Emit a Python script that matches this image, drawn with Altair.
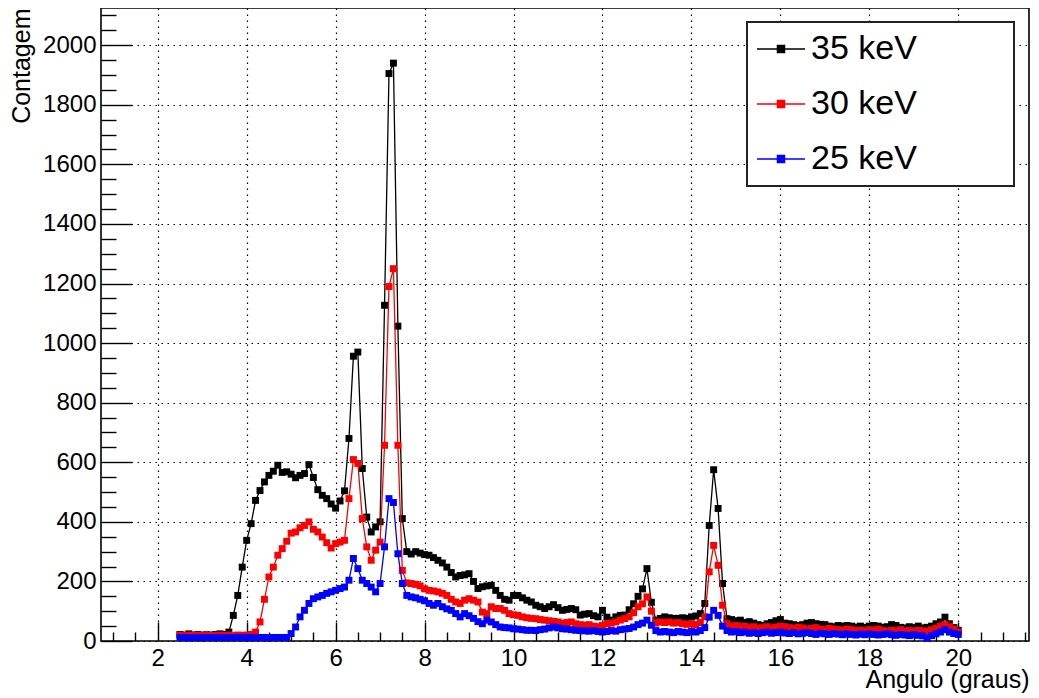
import altair as alt
import pandas as pd

FONT = "Liberation Sans"

# scan grid: 2.5 .. 20.0 degrees, step 0.1
angle = [round(2.5 + 0.1 * i, 1) for i in range(176)]

counts_35 = [
    22, 20, 24, 20, 22, 20, 21, 20, 22, 24,            # 2.5 - 3.4
    22, 30, 86, 153, 248, 338, 394, 472, 505, 534,     # 3.5 - 4.4
    556, 570, 590, 566, 568, 560, 548, 556, 562, 592,  # 4.5 - 5.4
    549, 508, 489, 478, 460, 446, 470, 504, 680, 956,  # 5.5 - 6.4
    970, 579, 416, 366, 383, 400, 1127, 1905, 1940, 1057,  # 6.5 - 7.4
    411, 300, 292, 300, 295, 290, 288, 280, 271, 262,  # 7.5 - 8.4
    248, 230, 215, 220, 222, 226, 200, 176, 182, 185,  # 8.5 - 9.4
    187, 170, 153, 140, 137, 153, 153, 145, 137, 131,  # 9.5 - 10.4
    120, 115, 109, 115, 122, 112, 103, 106, 109, 105,  # 10.5 - 11.4
    87, 90, 92, 85, 81, 103, 80, 70, 81, 86,           # 11.5 - 12.4
    87, 105, 125, 150, 175, 243, 130, 70, 76, 81,      # 12.5 - 13.4
    78, 76, 76, 78, 76, 81, 84, 92, 126, 388,          # 13.5 - 14.4
    575, 445, 193, 75, 72, 68, 70, 62, 65, 60,         # 14.5 - 15.4
    55, 52, 58, 62, 68, 72, 60, 58, 55, 52,            # 15.5 - 16.4
    55, 60, 62, 58, 56, 55, 50, 48, 52, 50,            # 16.5 - 17.4
    52, 50, 47, 50, 46, 50, 52, 50, 46, 48,            # 17.5 - 18.4
    55, 52, 46, 44, 48, 45, 50, 44, 46, 50,            # 18.5 - 19.4
    58, 64, 80, 58, 45, 36,                            # 19.5 - 20.0
]

counts_30 = [
    20, 18, 20, 19, 20, 18, 20, 19, 18, 20,
    19, 20, 18, 20, 19, 20, 22, 30, 64, 140,
    215, 248, 288, 310, 335, 362, 366, 380, 388, 400,
    375, 366, 349, 330, 312, 327, 332, 338, 478, 609,
    596, 411, 316, 271, 305, 332, 657, 1190, 1250, 657,
    237, 195, 193, 190, 185, 175, 170, 168, 165, 160,
    153, 140, 131, 126, 137, 142, 137, 131, 97, 92,
    115, 109, 109, 103, 92, 88, 86, 81, 78, 76,
    75, 72, 70, 68, 66, 64, 60, 62, 64, 58,
    55, 53, 55, 50, 48, 52, 58, 60, 64, 70,
    75, 81, 95, 115, 125, 148, 100, 60, 64, 62,
    64, 60, 62, 58, 56, 58, 55, 62, 81, 232,
    321, 254, 120, 58, 50, 52, 48, 50, 45, 48,
    42, 45, 48, 44, 46, 50, 48, 45, 42, 46,
    44, 40, 42, 45, 40, 38, 42, 40, 38, 36,
    40, 38, 35, 36, 34, 38, 36, 40, 35, 33,
    36, 34, 38, 32, 35, 33, 36, 34, 32, 38,
    42, 50, 55, 48, 40, 30,
]

counts_25 = [
    12, 12, 11, 12, 12, 11, 12, 12, 11, 12,
    12, 11, 12, 12, 11, 12, 12, 11, 12, 12,
    11, 12, 12, 12, 12, 25, 47, 81, 103, 126,
    142, 148, 153, 160, 165, 170, 176, 181, 204, 277,
    243, 204, 193, 181, 165, 193, 316, 478, 465, 293,
    193, 153, 148, 145, 140, 135, 126, 120, 126, 115,
    108, 103, 92, 81, 92, 85, 76, 65, 58, 70,
    64, 55, 47, 45, 44, 41, 40, 38, 36, 36,
    35, 38, 40, 44, 47, 44, 41, 40, 38, 36,
    35, 34, 33, 35, 32, 30, 32, 35, 33, 38,
    40, 42, 47, 55, 60, 70, 53, 35, 30, 32,
    30, 28, 32, 30, 28, 32, 30, 35, 45, 80,
    103, 86, 50, 35, 30, 32, 28, 30, 26, 28,
    25, 28, 30, 26, 28, 30, 27, 25, 28, 24,
    26, 28, 25, 22, 26, 24, 22, 25, 23, 21,
    24, 22, 20, 23, 21, 24, 22, 20, 22, 24,
    21, 19, 22, 20, 18, 21, 19, 17, 10, 18,
    24, 30, 38, 30, 25, 22,
]

series_names = ["35 keV", "30 keV", "25 keV"]
series_colors = ["#000000", "#ff0000", "#0000ff"]
series_counts = [counts_35, counts_30, counts_25]

x_major = [2, 4, 6, 8, 10, 12, 14, 16, 18, 20]
x_minor = [1.0, 1.5, 2.5, 3.0, 3.5, 4.5, 5.0, 5.5, 6.5, 7.0, 7.5, 8.5, 9.0, 9.5,
           10.5, 11.0, 11.5, 12.5, 13.0, 13.5, 14.5, 15.0, 15.5, 16.5, 17.0, 17.5,
           18.5, 19.0, 19.5, 20.5, 21.0, 21.5]
y_major = [0, 200, 400, 600, 800, 1000, 1200, 1400, 1600, 1800, 2000]
y_minor = [50, 100, 150, 250, 300, 350, 450, 500, 550, 650, 700, 750, 850, 900, 950,
           1050, 1100, 1150, 1250, 1300, 1350, 1450, 1500, 1550, 1650, 1700, 1750,
           1850, 1900, 1950, 2050, 2100]

W, H = 928, 633
xscale = alt.Scale(domain=[0.725, 21.59], nice=False, zero=False)
yscale = alt.Scale(domain=[0, 2125], nice=False)
stroke_scale = alt.Scale(domain=series_names, range=series_colors)
fill_scale = alt.Scale(domain=series_names, range=series_colors)

# legend symbol: line with a small filled square; the trailing move-to only
# widens the legend box (nothing is drawn there)
SYMBOL = "M-1.5,0L1.5,0M-0.22,-0.22L0.22,-0.22L0.22,0.22L-0.22,0.22ZM13.7,0"
legend_kw = dict(
    orient="none", legendX=646, legendY=14, title=None,
    symbolType=SYMBOL, symbolSize=1024, symbolStrokeWidth=1.5, symbolOffset=7,
    labelFont=FONT, labelFontSize=34, labelColor="black", labelLimit=500,
    labelOffset=13, rowPadding=21, padding=10,
    strokeColor="#222222", fillColor="white",
)

frames = []
for name, vals in zip(series_names, series_counts):
    frames.append(pd.DataFrame({"angle": angle, "count": vals, "series": name}))

grid_kw = dict(grid=True, gridColor="black", gridDash=[1.5, 4.5], gridWidth=1.2)

main_x = alt.Axis(orient="bottom", values=x_major, format="d", ticks=False, tickSize=0,
                  domain=False, labelFont=FONT, labelFontSize=24, labelColor="black",
                  labelPadding=5, labelFlush=False, labelOverlap=False,
                  title="Angulo (graus)", titleFont=FONT, titleFontSize=25,
                  titleFontWeight="normal", titleColor="black", titleAnchor="end",
                  titleAlign="right", titleBaseline="alphabetic", titleX=W, titleY=46,
                  **grid_kw)
main_y = alt.Axis(orient="left", values=y_major, format="d", ticks=False, tickSize=0,
                  domain=False, labelFont=FONT, labelFontSize=24, labelColor="black",
                  labelPadding=5, labelFlush=False, labelOverlap=False,
                  title="Contagem", titleFont=FONT, titleFontSize=25,
                  titleFontWeight="normal", titleColor="black", titleAngle=270,
                  titleAlign="right", titleBaseline="alphabetic", titleX=-72, titleY=0,
                  **grid_kw)


def tick_axes(xvals, xlen, yvals, ylen):
    ax = alt.Axis(orient="top", offset=-H, values=xvals, ticks=True, tickSize=xlen,
                  tickWidth=1.4, tickColor="black", labels=False, domain=False,
                  grid=False, title=None)
    ay = alt.Axis(orient="right", offset=-W, values=yvals, ticks=True, tickSize=ylen,
                  tickWidth=1.4, tickColor="black", labels=False, domain=False,
                  grid=False, title=None)
    return ax, ay


layers = []
for i, (name, df) in enumerate(zip(series_names, frames)):
    first = i == 0
    line = alt.Chart(df).mark_line(strokeWidth=1.3).encode(
        x=alt.X("angle:Q", scale=xscale, axis=main_x if first else None),
        y=alt.Y("count:Q", scale=yscale, axis=main_y if first else None),
        stroke=alt.Stroke("series:N", scale=stroke_scale,
                          legend=alt.Legend(**legend_kw) if first else None),
    )
    pts = alt.Chart(df).mark_square(size=48, opacity=1, strokeWidth=0).encode(
        x=alt.X("angle:Q", scale=xscale, axis=None),
        y=alt.Y("count:Q", scale=yscale, axis=None),
        fill=alt.Fill("series:N", scale=fill_scale,
                      legend=alt.Legend(**legend_kw) if first else None),
    )
    layers += [line, pts]

for xv, xl, yv, yl in [(x_major, 19, y_major, 31), (x_minor, 9, y_minor, 15)]:
    ax, ay = tick_axes(xv, xl, yv, yl)
    layers.append(
        alt.Chart(frames[0]).mark_point(opacity=0, size=1).encode(
            x=alt.X("angle:Q", scale=xscale, axis=ax),
            y=alt.Y("count:Q", scale=yscale, axis=ay),
        )
    )

chart = (
    alt.layer(*layers)
    .resolve_axis(x="independent", y="independent")
    .properties(
        width=W, height=H,
        padding={"left": 93, "top": 0, "right": 2, "bottom": 53},
        autosize=alt.AutoSizeParams(type="none"),
        background="white",
    )
    .configure_view(stroke="black", strokeWidth=1.6)
    .configure_legend(strokeWidth=2)
)

chart.save("out.html", embed_options={"renderer": "svg", "actions": False})
